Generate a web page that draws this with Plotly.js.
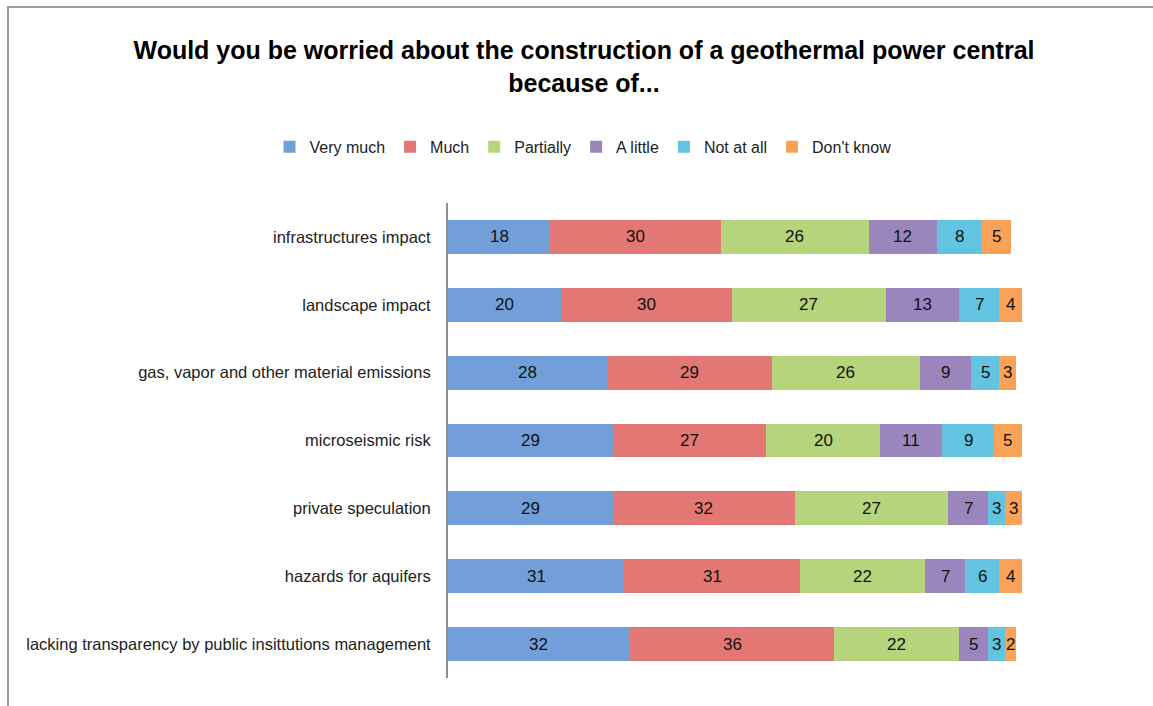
<!DOCTYPE html>
<html>
<head>
<meta charset="utf-8">
<script src="https://cdn.plot.ly/plotly-3.0.1.min.js"></script>
<style>
  body { margin: 0; background: #fff; }
  #chart { position: absolute; left: 0; top: 0; width: 1153px; height: 706px; }
  #frame { position: absolute; left: 7px; top: 6px; width: 1200px; height: 800px;
           border-top: 2px solid #9a9a9a; border-left: 2px solid #9a9a9a; pointer-events: none; }
</style>
</head>
<body>
<div id="chart"></div>
<div id="frame"></div>
<script>
const categories = [
  "infrastructures impact",
  "landscape impact",
  "gas, vapor and other material emissions",
  "microseismic risk",
  "private speculation",
  "hazards for aquifers",
  "lacking transparency by public insittutions management"
];
const seriesNames = ["Very much", "Much", "Partially", "A little", "Not at all", "Don't know"];
const veryMuch  = [18, 20, 28, 29, 29, 31, 32];
const much      = [30, 30, 29, 27, 32, 31, 36];
const partially = [26, 27, 26, 20, 27, 22, 22];
const aLittle   = [12, 13, 9, 11, 7, 7, 5];
const notAtAll  = [8, 7, 5, 9, 3, 6, 3];
const dontKnow  = [5, 4, 3, 5, 3, 4, 2];
const seriesValues = [veryMuch, much, partially, aLittle, notAtAll, dontKnow];
const colors = ["#729fd9", "#e27774", "#b5d47c", "#9a86bd", "#62c4e0", "#f9a258"];

const FONT = "'Liberation Sans Narrow', 'Arial Narrow', 'Liberation Sans', Arial, sans-serif";

const traces = seriesNames.map((name, i) => ({
  type: "bar",
  orientation: "h",
  name: name,
  y: categories,
  x: seriesValues[i],
  marker: { color: colors[i], line: { width: 0 } },
  textposition: "none",
  hoverinfo: "x+name"
}));

const annotations = [];
categories.forEach((cat, j) => {
  let cum = 0;
  seriesValues.forEach((vals) => {
    const v = vals[j];
    annotations.push({
      x: cum + v / 2, y: cat, xref: "x", yref: "y",
      text: String(v), showarrow: false,
      font: { family: FONT, size: 17, color: "#111" }
    });
    cum += v;
  });
});

const layout = {
  width: 1153, height: 706,
  paper_bgcolor: "#fff", plot_bgcolor: "#fff",
  barmode: "stack",
  bargap: 0.5,
  margin: { l: 448, r: 131, t: 203, b: 28 },
  title: {
    text: "<b>Would you be worried about the construction of a geothermal power central<br>because of...</b>",
    font: { family: "'Liberation Sans', Arial, sans-serif", size: 25, color: "#000" },
    xref: "container", x: 0.5065, xanchor: "center",
    yref: "container", y: 0.916, yanchor: "top"
  },
  legend: {
    orientation: "h",
    xref: "paper", x: -0.311, xanchor: "left",
    yref: "paper", y: 1.118, yanchor: "middle",
    font: { family: FONT, size: 16, color: "#222" },
    itemwidth: 30, traceorder: "normal", tracegroupgap: 0
  },
  xaxis: {
    range: [0, 101], visible: false, showgrid: false, zeroline: false
  },
  yaxis: {
    autorange: "reversed",
    showline: true, linecolor: "#8c8c8c", linewidth: 2,
    ticks: "", showgrid: false, zeroline: false,
    ticklabelstandoff: 12,
    tickfont: { family: FONT, size: 16.5, color: "#222" }
  },
  annotations: annotations,
  showlegend: true
};

Plotly.newPlot("chart", traces, layout, { displayModeBar: false, staticPlot: true });
</script>
</body>
</html>
